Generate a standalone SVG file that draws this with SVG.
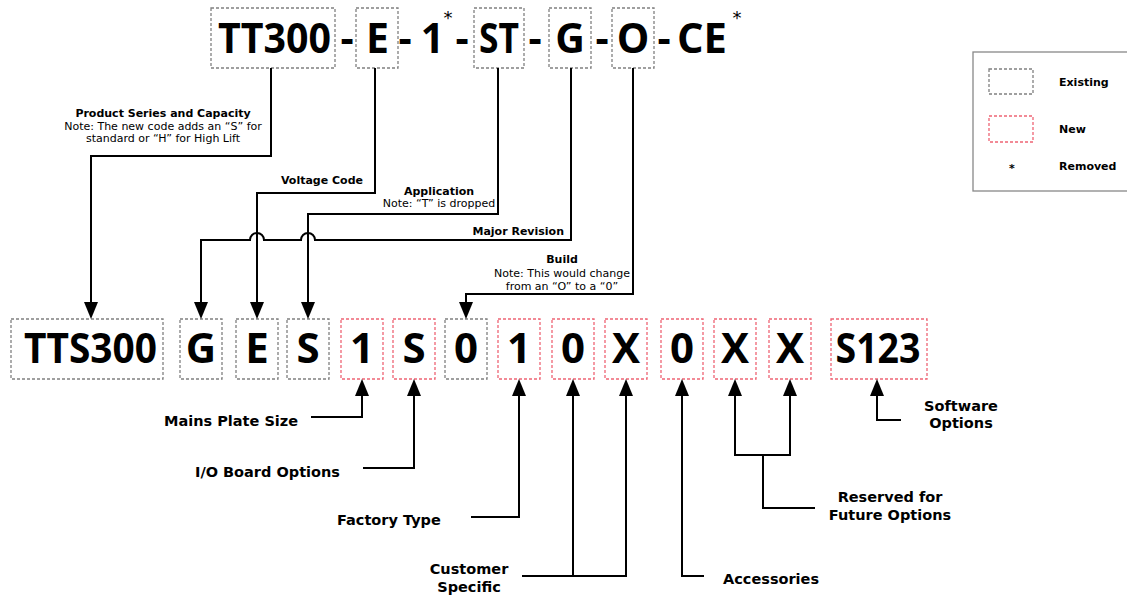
<svg xmlns="http://www.w3.org/2000/svg" width="1127" height="597" viewBox="0 0 1127 597">
<style>
.ex{fill:none;stroke:#808080;stroke-width:1.3;stroke-dasharray:3 2}
.nw{fill:none;stroke:#ee6474;stroke-width:1.3;stroke-dasharray:3 2}
.big{font-family:"Open Sans","Liberation Sans",sans-serif;font-weight:700;fill:#000;text-anchor:middle}
.t{font-size:41px}
.b{font-size:42px}
.lbl{font-family:"DejaVu Sans",Verdana,sans-serif;font-weight:700;font-size:14.5px;fill:#000}
.nb{font-family:"DejaVu Sans",Verdana,sans-serif;font-weight:700;font-size:11px;fill:#000}
.nr{font-family:"DejaVu Sans",Verdana,sans-serif;font-size:11px;fill:#000}
.lg{font-family:"DejaVu Sans",Verdana,sans-serif;font-weight:700;font-size:11px;fill:#000}
.ast{font-family:"DejaVu Sans",Verdana,sans-serif;font-size:18px;fill:#000;text-anchor:middle}
.c{text-anchor:middle}
.e{text-anchor:end}
.conn path{fill:none;stroke:#000;stroke-width:2}
.arr path{marker-end:url(#ah)}
</style>
<defs>
<marker id="ah" viewBox="0 0 17 14" refX="14" refY="7" markerWidth="17" markerHeight="14" markerUnits="userSpaceOnUse" orient="auto">
<path d="M0,0 L17,7 L0,14 z" fill="#000"/>
</marker>
</defs>
<rect width="1127" height="597" fill="#fff"/>

<!-- Top old code -->
<g id="old-code">
<g id="old-TT300"><rect class="ex" x="211" y="8" width="124" height="60"/><text class="big t" x="274.5" y="53" textLength="113" lengthAdjust="spacingAndGlyphs">TT300</text></g>
<text class="big t" x="347" y="53">-</text>
<g id="old-E"><rect class="ex" x="356" y="8" width="42" height="60"/><text class="big t" x="377.5" y="53">E</text></g>
<text class="big t" x="405" y="53">-</text>
<g id="old-1"><text class="big t" x="432.5" y="53">1</text><text class="ast" x="448" y="24">*</text></g>
<text class="big t" x="462" y="53">-</text>
<g id="old-ST"><rect class="ex" x="474" y="8" width="50" height="60"/><text class="big t" x="499" y="53" textLength="40" lengthAdjust="spacingAndGlyphs">ST</text></g>
<text class="big t" x="535" y="53">-</text>
<g id="old-G"><rect class="ex" x="549" y="8" width="42" height="60"/><text class="big t" x="570" y="53">G</text></g>
<text class="big t" x="602" y="53">-</text>
<g id="old-O"><rect class="ex" x="612" y="8" width="42" height="60"/><text class="big t" x="633" y="53">O</text></g>
<text class="big t" x="664" y="53">-</text>
<g id="old-CE"><text class="big t" x="702" y="53" textLength="50" lengthAdjust="spacingAndGlyphs">CE</text><text class="ast" x="737" y="24">*</text></g>
</g>

<!-- Legend -->
<g id="legend">
<rect x="973" y="52" width="160" height="139" fill="none" stroke="#888" stroke-width="1.3"/>
<rect class="ex" x="989" y="69" width="44" height="25"/>
<text class="lg" x="1059" y="86">Existing</text>
<rect class="nw" x="989" y="116" width="44" height="26"/>
<text class="lg" x="1059" y="133">New</text>
<text class="lg c" x="1012" y="172" font-size="14">*</text>
<text class="lg" x="1059" y="170">Removed</text>
</g>

<!-- Top labels -->
<g id="lbl-product">
<text class="nb c" x="163" y="117">Product Series and Capacity</text>
<text class="nr c" x="163" y="130">Note: The new code adds an “S” for</text>
<text class="nr c" x="163" y="142">standard or “H” for High Lift</text>
</g>
<g id="lbl-voltage"><text class="nb e" x="363" y="184">Voltage Code</text></g>
<g id="lbl-application">
<text class="nb c" x="439" y="195">Application</text>
<text class="nr c" x="439" y="207">Note: “T” is dropped</text>
</g>
<g id="lbl-major"><text class="nb e" x="564" y="235">Major Revision</text></g>
<g id="lbl-build">
<text class="nb c" x="562" y="263">Build</text>
<text class="nr c" x="562" y="277">Note: This would change</text>
<text class="nr c" x="562" y="290">from an “O” to a “0”</text>
</g>

<!-- Bottom new code -->
<g id="new-code">
<g id="new-TTS300"><rect class="ex" x="11" y="319" width="152" height="60"/><text class="big b" x="90.5" y="363" textLength="133" lengthAdjust="spacingAndGlyphs">TTS300</text></g>
<g id="new-G"><rect class="ex" x="180" y="319" width="42" height="60"/><text class="big b" x="201" y="363">G</text></g>
<g id="new-E"><rect class="ex" x="236" y="319" width="42" height="60"/><text class="big b" x="257" y="363">E</text></g>
<g id="new-S"><rect class="ex" x="287" y="319" width="42" height="60"/><text class="big b" x="308" y="363">S</text></g>
<g id="new-1a"><rect class="nw" x="341" y="319" width="42" height="60"/><text class="big b" x="362" y="363">1</text></g>
<g id="new-S2"><rect class="nw" x="393" y="319" width="42" height="60"/><text class="big b" x="414" y="363">S</text></g>
<g id="new-0a"><rect class="ex" x="445" y="319" width="42" height="60"/><text class="big b" x="466" y="363">0</text></g>
<g id="new-1b"><rect class="nw" x="498" y="319" width="42" height="60"/><text class="big b" x="519" y="363">1</text></g>
<g id="new-0b"><rect class="nw" x="552" y="319" width="42" height="60"/><text class="big b" x="573" y="363">0</text></g>
<g id="new-Xa"><rect class="nw" x="605" y="319" width="42" height="60"/><text class="big b" x="626" y="363">X</text></g>
<g id="new-0c"><rect class="nw" x="661" y="319" width="42" height="60"/><text class="big b" x="682" y="363">0</text></g>
<g id="new-Xb"><rect class="nw" x="714" y="319" width="42" height="60"/><text class="big b" x="735" y="363">X</text></g>
<g id="new-Xc"><rect class="nw" x="769" y="319" width="42" height="60"/><text class="big b" x="790" y="363">X</text></g>
<g id="new-S123"><rect class="nw" x="831" y="319" width="96" height="60"/><text class="big b" x="878" y="363" textLength="85" lengthAdjust="spacingAndGlyphs">S123</text></g>
</g>

<!-- Bottom labels -->
<g id="lbl-mains"><text class="lbl" x="164" y="426">Mains Plate Size</text></g>
<g id="lbl-io"><text class="lbl" x="195" y="477">I/O Board Options</text></g>
<g id="lbl-factory"><text class="lbl" x="337" y="525">Factory Type</text></g>
<g id="lbl-customer"><text class="lbl c" x="469" y="574">Customer</text><text class="lbl c" x="469" y="592">Specific</text></g>
<g id="lbl-accessories"><text class="lbl" x="723" y="584">Accessories</text></g>
<g id="lbl-reserved"><text class="lbl c" x="890" y="502">Reserved for</text><text class="lbl c" x="890" y="520">Future Options</text></g>
<g id="lbl-software"><text class="lbl c" x="961" y="411">Software</text><text class="lbl c" x="961" y="428">Options</text></g>

<!-- Connectors -->
<g id="connectors" class="conn">
<g class="arr">
<path d="M271,68 V156 H91 V316"/>
<path d="M375,68 V193 H257 V316"/>
<path d="M498,68 V214 H308 V316"/>
<path d="M571,68 V240 H315 A7,7 0 0 0 301,240 H264 A7,7 0 0 0 250,240 H201 V316"/>
<path d="M633,68 V294 H466 V316"/>
<path d="M311,417 H362 V382"/>
<path d="M363,468 H414 V382"/>
<path d="M471,517 H519 V382"/>
<path d="M522,576 H573 V382"/>
<path d="M573,576 H626 V382"/>
<path d="M704,576 H682 V382"/>
<path d="M763,455 H735 V382"/>
<path d="M763,455 H790 V382"/>
<path d="M901,420 H877 V382"/>
</g>
<path d="M763,455 V508 H815"/>
</g>
</svg>
